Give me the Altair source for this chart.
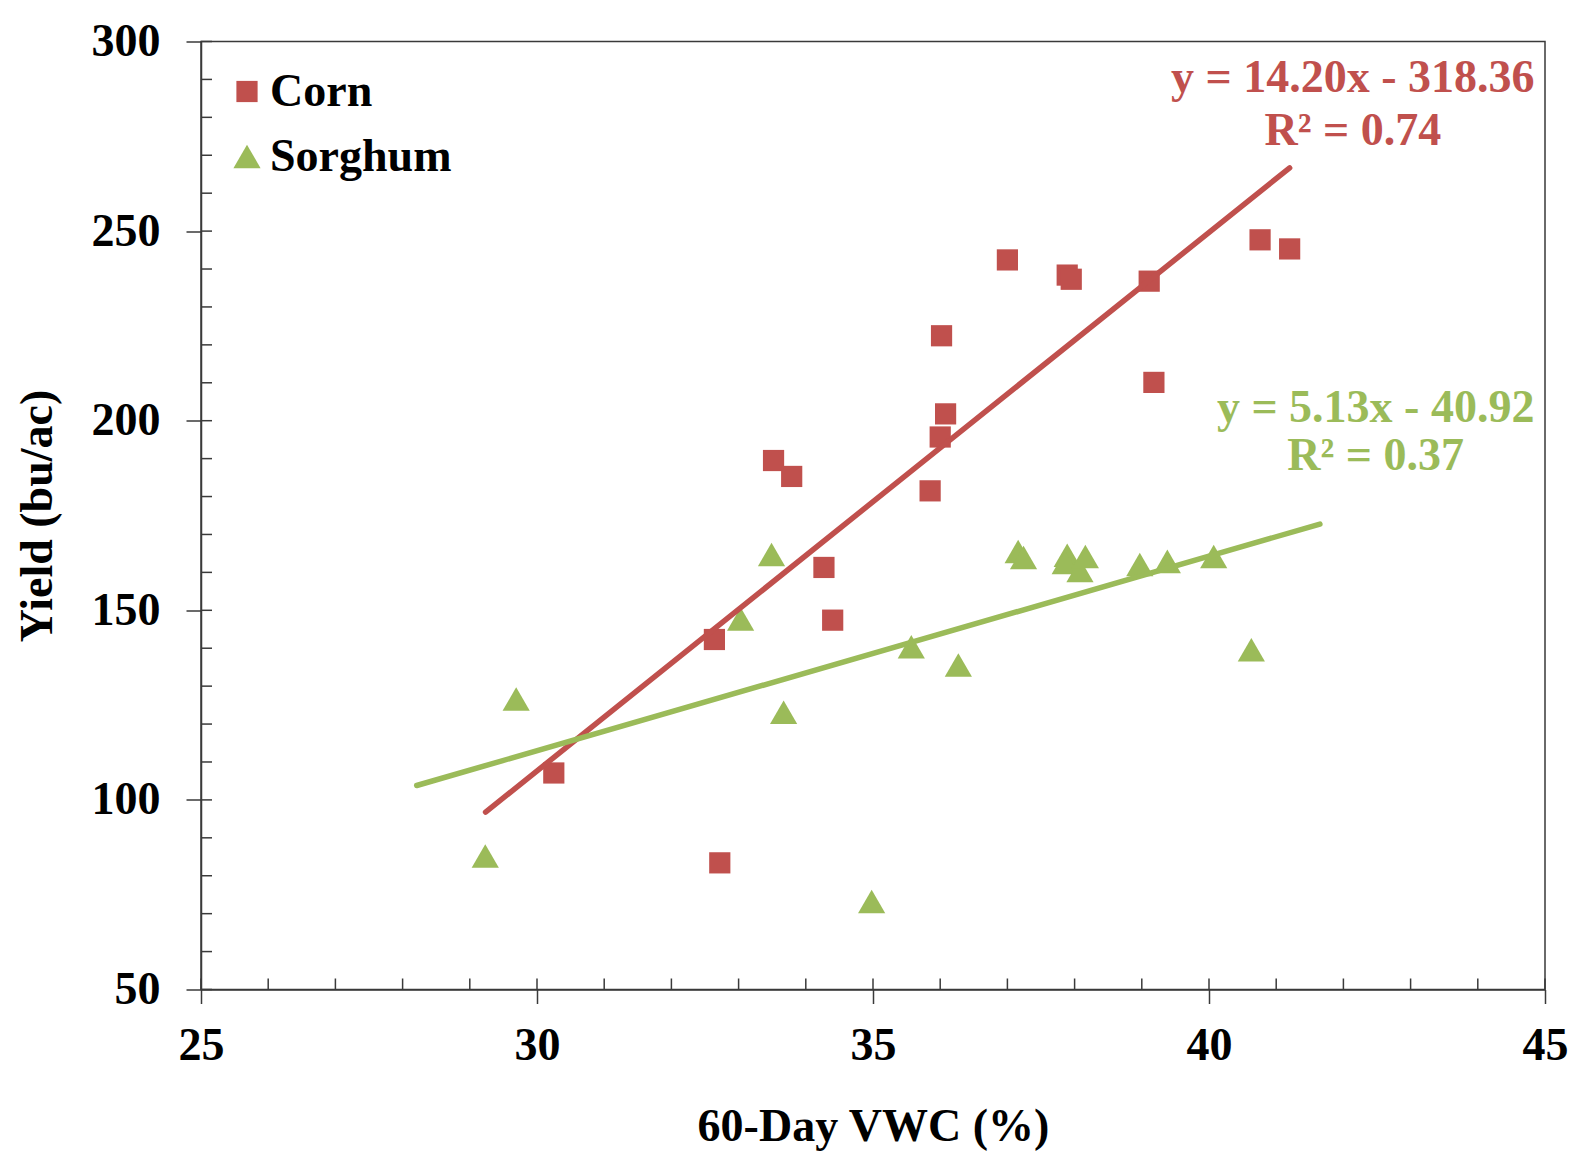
import altair as alt
import pandas as pd

# ---- data ----
corn_x = [30.25, 32.72, 32.64, 33.52, 33.79, 34.27, 34.40, 35.85, 36.00, 36.08,
          36.02, 37.00, 37.89, 37.95, 39.11, 39.18, 40.76, 41.20]
corn_y = [107.1, 83.4, 142.3, 189.5, 185.3, 161.3, 147.4, 181.5, 195.7, 201.8,
          222.4, 242.4, 238.4, 237.3, 236.8, 210.1, 247.7, 245.3]

sorghum_x = [29.23, 29.69, 33.03, 33.49, 33.67, 34.98, 35.57, 36.27, 37.16, 37.24,
             37.89, 37.86, 38.08, 38.16, 38.97, 39.38, 40.07, 40.63]
sorghum_y = [85.2, 126.6, 147.7, 164.7, 123.1, 73.2, 140.4, 135.6, 165.5, 163.9,
             164.5, 162.6, 160.5, 164.2, 162.1, 162.9, 164.2, 139.6]

series = ["Corn", "Sorghum"]
colors = ["#C0504D", "#9BBB59"]
shapes = ["square", "triangle-up"]
marker_sizes = [450, 740]

# trendline coefficients (slope, intercept) and x extent
slopes = [14.20, 5.13]
intercepts = [-318.36, -40.92]
line_x_start = [29.235, 28.21]
line_x_end = [41.20, 41.65]

# equation annotations
eq_text = ["y = 14.20x - 318.36", "R² = 0.74", "y = 5.13x - 40.92", "R² = 0.37"]
eq_series = ["Corn", "Corn", "Sorghum", "Sorghum"]
eq_x = [42.14, 42.14, 42.48, 42.48]
eq_y = [286.6, 272.6, 199.6, 186.9]

x_ticks_major = [25, 30, 35, 40, 45]
y_ticks_major = [50, 100, 150, 200, 250, 300]
x_ticks_all = [25, 26, 27, 28, 29, 30, 31, 32, 33, 34, 35, 36, 37, 38, 39, 40,
               41, 42, 43, 44, 45]
y_ticks_all = [50, 60, 70, 80, 90, 100, 110, 120, 130, 140, 150, 160, 170, 180,
               190, 200, 210, 220, 230, 240, 250, 260, 270, 280, 290, 300]

# ---- tables ----
pts = pd.DataFrame({
    "x": corn_x + sorghum_x,
    "y": corn_y + sorghum_y,
    "crop": ["Corn"] * len(corn_x) + ["Sorghum"] * len(sorghum_x),
})

line_rows = []
for s, m, b, x0, x1 in zip(series, slopes, intercepts, line_x_start, line_x_end):
    line_rows.append({"crop": s, "x": x0, "y": m * x0 + b})
    line_rows.append({"crop": s, "x": x1, "y": m * x1 + b})
lines = pd.DataFrame(line_rows)

eqs = pd.DataFrame({"text": eq_text, "crop": eq_series, "x": eq_x, "y": eq_y})
xt = pd.DataFrame({"x": x_ticks_all})
yt = pd.DataFrame({"y": y_ticks_all})

FONT = "Liberation Serif"
W, H = 1344, 948
AXC = "#3a3a3a"

xscale = alt.Scale(domain=[25, 45], nice=False, zero=False)
yscale = alt.Scale(domain=[50, 300], nice=False, zero=False)
cscale = alt.Scale(domain=series, range=colors)
sscale = alt.Scale(domain=series, range=shapes)
zscale = alt.Scale(domain=series, range=marker_sizes)

xaxis = alt.Axis(values=x_ticks_major, format="d", labelFlush=False,
                 title="60-Day VWC (%)", grid=False,
                 tickSize=14, labelPadding=56, labelBaseline="alphabetic",
                 titleX=W / 2, titleY=151, titleBaseline="alphabetic",
                 titleAlign="center")
yaxis = alt.Axis(values=y_ticks_major, format="d", labelFlush=False,
                 title="Yield (bu/ac)", grid=False,
                 tickSize=15, labelPadding=26,
                 titleX=-150, titleY=H / 2, titleAngle=270,
                 titleBaseline="alphabetic", titleAlign="center")

legend = alt.Legend(title=None, orient="none", legendX=23, legendY=27,
                    padding=0, rowPadding=19, labelOffset=0, labelLimit=400,
                    symbolStrokeWidth=0, labelFontSize=46, labelFont=FONT,
                    labelFontWeight="bold", labelColor="black", symbolOpacity=1)

points = alt.Chart(pts).mark_point(filled=True, opacity=1).encode(
    x=alt.X("x:Q", scale=xscale, axis=xaxis),
    y=alt.Y("y:Q", scale=yscale, axis=yaxis),
    color=alt.Color("crop:N", scale=cscale, legend=legend),
    shape=alt.Shape("crop:N", scale=sscale, legend=legend),
    size=alt.Size("crop:N", scale=zscale, legend=legend),
)

trend = alt.Chart(lines).mark_line(strokeWidth=5.5, strokeCap="round").encode(
    x=alt.X("x:Q", scale=xscale),
    y=alt.Y("y:Q", scale=yscale),
    color=alt.Color("crop:N", scale=cscale, legend=None),
    detail="crop:N",
)

labels = alt.Chart(eqs).mark_text(font=FONT, fontSize=46, fontWeight="bold",
                                  align="center", baseline="alphabetic").encode(
    x=alt.X("x:Q", scale=xscale),
    y=alt.Y("y:Q", scale=yscale),
    text="text:N",
    color=alt.Color("crop:N", scale=cscale, legend=None),
)

xin = alt.Chart(xt).mark_rule(color=AXC, strokeWidth=1.5).encode(
    x=alt.X("x:Q", scale=xscale),
    y=alt.value(H), y2=alt.value(H - 11),
)
yin = alt.Chart(yt).mark_rule(color=AXC, strokeWidth=1.5).encode(
    y=alt.Y("y:Q", scale=yscale),
    x=alt.value(0), x2=alt.value(11),
)

chart = alt.layer(xin, yin, points, trend, labels).properties(
    width=W, height=H,
    autosize=alt.AutoSizeParams(type="none"),
    padding={"left": 193, "top": 33.5, "right": 36, "bottom": 164},
    background="white",
).configure_view(
    stroke=AXC, strokeWidth=1.5
).configure_axis(
    labelFont=FONT, labelFontSize=46, labelFontWeight="bold", labelColor="black",
    titleFont=FONT, titleFontSize=46, titleFontWeight="bold", titleColor="black",
    domainColor=AXC, domainWidth=1.5, tickColor=AXC, tickWidth=1.5,
)

chart.save("out.html", embed_options={"renderer": "svg", "actions": False})
